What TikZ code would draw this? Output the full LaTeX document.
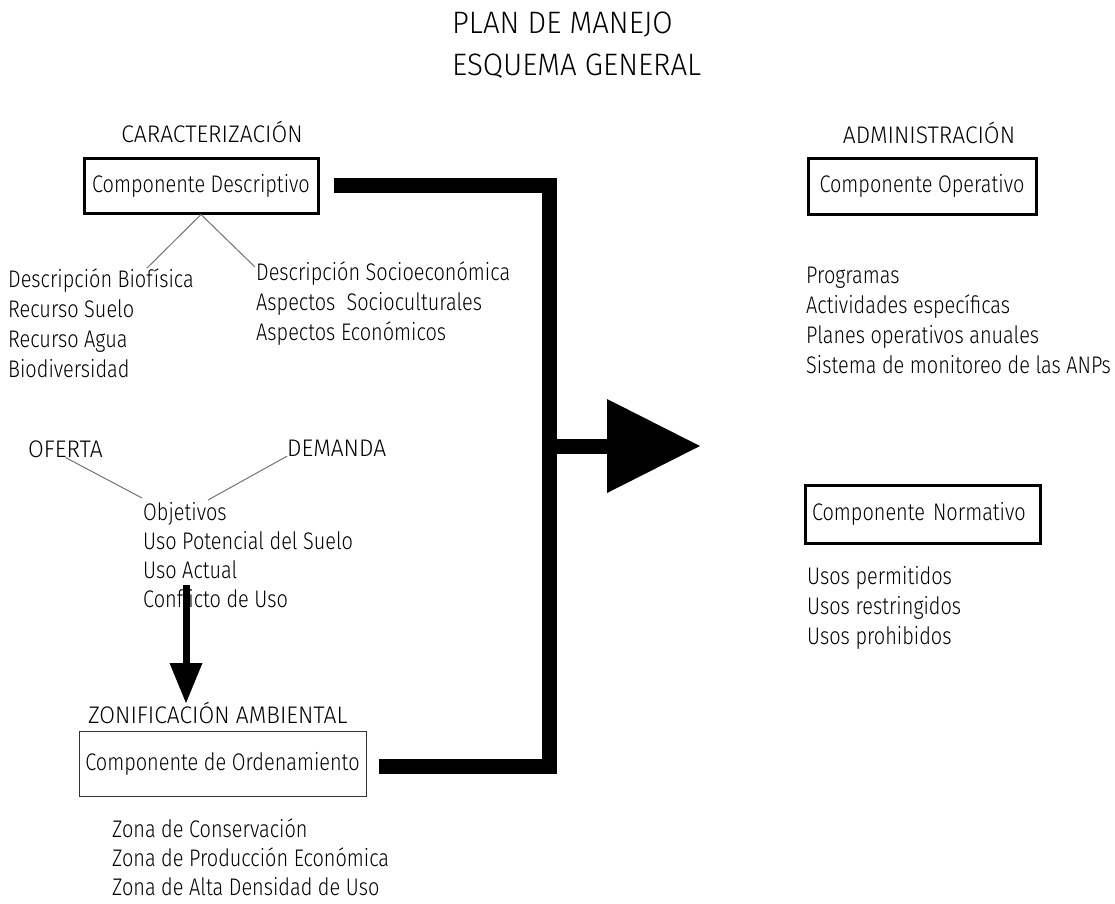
\documentclass[tikz,border=0pt]{standalone}
\usepackage{fontspec}
\setmainfont{Fira Sans}[UprightFont=* Light, FakeStretch=0.83]
\newfontfamily\capsfont{Fira Sans}[UprightFont=* Light, FakeStretch=0.95]
\begin{document}
\begin{tikzpicture}[x=1pt,y=-1pt,
  txt/.style={font=\fontsize{24}{30}\selectfont, inner sep=0pt, anchor=base west},
  captxt/.style={font=\capsfont\fontsize{24}{30}\selectfont, inner sep=0pt, anchor=base west},
  head/.style={font=\capsfont\fontsize{24}{30}\selectfont, inner sep=0pt, anchor=base},
  ttl/.style={font=\capsfont\fontsize{31}{38}\selectfont, inner sep=0pt, anchor=base west},
  thickbox/.style={draw, line width=3pt, inner sep=0pt, font=\fontsize{24}{30}\selectfont},
  thinbox/.style={draw=black!80, line width=1pt, inner sep=0pt, font=\fontsize{24}{30}\selectfont},
  thinline/.style={draw=black!55, line width=1pt},
  bus/.style={line width=15pt, line join=miter},
  shaft/.style={line width=7pt}]
\useasboundingbox (0,0) rectangle (1115,903);

% titles
\node[ttl] (t1) at (452,33) {PLAN DE MANEJO};
\node[ttl] (t2) at (452,75) {ESQUEMA GENERAL};

% caracterizacion
\node[head] (car) at (212,142) {CARACTERIZACIÓN};
\node[thickbox, minimum width=234pt, minimum height=55pt] (desc) at (201,185.5) {Componente Descriptivo};

\foreach \t [count=\i] in {Descripción Biofísica, Recurso Suelo, Recurso Agua, Biodiversidad}
  \node[txt] (bio\i) at (8,{287+30*(\i-1)}) {\t};
\foreach \t [count=\i] in {Descripción Socioeconómica, Aspectos~ Socioculturales, Aspectos Económicos}
  \node[txt] (soc\i) at (256,{280+30*(\i-1)}) {\t};

\coordinate (dl) at (147,268);
\coordinate (dr) at (255,267);
\draw[thinline] (desc.south) -- (dl);
\draw[thinline] (desc.south) -- (dr);

% oferta / demanda
\node[captxt] (ofe) at (28,457) {OFERTA};
\node[captxt] (dem) at (287,456) {DEMANDA};
\foreach \t [count=\i] in {Objetivos, Uso Potencial del Suelo, Uso Actual, Conflicto de Uso}
  \node[txt] (obj\i) at (143,{520+29.3*(\i-1)}) {\t};
\coordinate (ol) at (142,498);
\coordinate (orr) at (208,500);
\draw[thinline] (ofe.south) -- (ol);
\draw[thinline] (dem.south west) -- (orr);

% down arrow
\coordinate (dA) at (186,585);
\coordinate (dB) at (186,703);
\draw[shaft] (dA) -- ([yshift=38pt]dB);
\fill (dB) -- ++(-16.5,-40) -- ++(33,0) -- cycle;

% zonificacion
\node[captxt] (zon) at (88,723) {ZONIFICACIÓN AMBIENTAL};
\node[thinbox, minimum width=287pt, minimum height=65pt] (ord) at (222.5,763.5) {Componente de Ordenamiento};
\foreach \t [count=\i] in {Zona de Conservación, Zona de Producción Económica, Zona de Alta Densidad de Uso}
  \node[txt] (zona\i) at (112,{837+29*(\i-1)}) {\t};

% administracion
\node[head] (adm) at (929,143) {ADMINISTRACIÓN};
\node[thickbox, minimum width=228pt, minimum height=56pt] (oper) at (922,186) {Componente Operativo};
\foreach \t [count=\i] in {Programas, Actividades específicas, Planes operativos anuales, Sistema de monitoreo de las ANPs}
  \node[txt] (prog\i) at (806,{283+30*(\i-1)}) {\t};

\node[thickbox, text width=221pt, inner xsep=7pt, minimum height=58pt, align=left] (norm) at (922.5,514) {Componente Normativo};
\foreach \t [count=\i] in {Usos permitidos, Usos restringidos, Usos prohibidos}
  \node[txt] (uso\i) at (807,{584+30*(\i-1)}) {\t};

% main connector
\coordinate (jtop) at (549.5,185.5);
\coordinate (jbot) at (549.5,766);
\coordinate (jmid) at (549.5,446);
\coordinate (tipb) at (607,446);
\coordinate (tip) at (700,446);
\draw[bus] ([xshift=14pt]desc.east) -- (jtop) -- (jbot) -- ([xshift=12pt,yshift=-2.5pt]ord.east);
\draw[bus] (jmid) -- (tipb);
\fill ([yshift=47pt]tipb) -- (tip) -- ([yshift=-47pt]tipb) -- cycle;
\end{tikzpicture}
\end{document}
